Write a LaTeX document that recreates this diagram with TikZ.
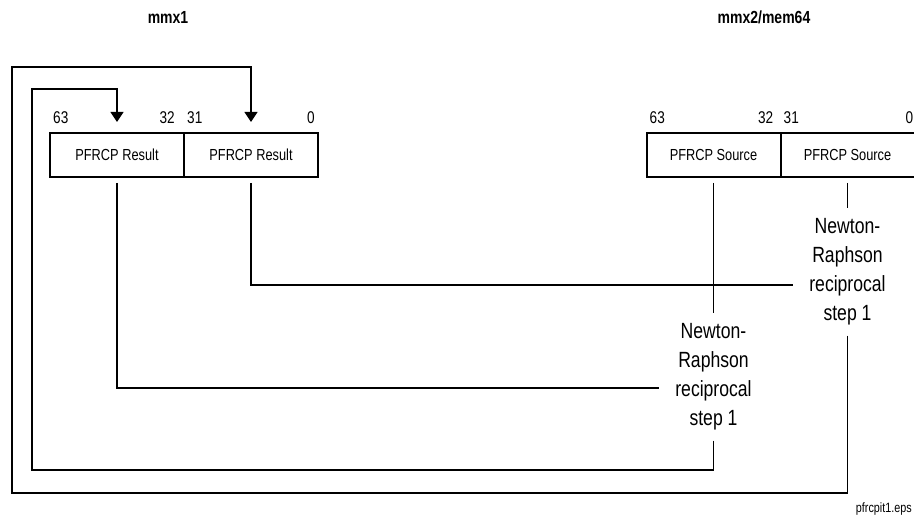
\documentclass[tikz,border=0pt]{standalone}
\usepackage{fontspec}
\setmainfont{Liberation Sans}[FakeStretch=0.8]
\usetikzlibrary{arrows.meta,positioning}
\tikzset{
  regbox/.style={draw,line width=2pt,outer sep=0pt,inner sep=0pt,minimum width=134pt,minimum height=44pt,font=\fontsize{16}{18}\selectfont},
  bitnum/.style={inner sep=0pt,font=\fontsize{17}{19}\selectfont},
  regname/.style={font=\bfseries\fontsize{17.5}{20}\selectfont},
  nrstep/.style={align=center,inner xsep=16pt,inner ysep=10pt,font=\fontsize{22}{29}\selectfont},
  wire/.style={line width=1.1pt},
  feed/.style={wire,-{Triangle[length=10pt,width=13pt]}}
}

\begin{document}
\begin{tikzpicture}[x=1pt,y=-1pt]
  \useasboundingbox (0,0) rectangle (914,516);
  % register names
  \node[regname] (mmxa) at (168,17) {mmx1};
  \node[regname] (mmxb) at (764,17) {mmx2/mem64};
  % destination and source registers
  \node[regbox] (reshi) at (117,155) {PFRCP Result};
  \node[regbox,right=0pt of reshi] (reslo) {PFRCP Result};
  \node[regbox] (srchi) at (713.5,155) {PFRCP Source};
  \node[regbox,right=0pt of srchi] (srclo) {PFRCP Source};
  % bit numbers
  \node[bitnum,anchor=base west] (rb63) at ([shift={(3pt,9pt)}]reshi.north west) {63};
  \node[bitnum,anchor=base east] (rb32) at ([shift={(-9pt,9pt)}]reshi.north east) {32};
  \node[bitnum,anchor=base west] (rb31) at ([shift={(3pt,9pt)}]reslo.north west) {31};
  \node[bitnum,anchor=base east] (rb0) at ([shift={(-3pt,9pt)}]reslo.north east) {0};
  \node[bitnum,anchor=base west] (sb63) at ([shift={(3pt,9pt)}]srchi.north west) {63};
  \node[bitnum,anchor=base east] (sb32) at ([shift={(-7pt,9pt)}]srchi.north east) {32};
  \node[bitnum,anchor=base west] (sb31) at ([shift={(3pt,9pt)}]srclo.north west) {31};
  \node[bitnum,anchor=base east] (sb0) at ([shift={(-1pt,9pt)}]srclo.north east) {0};
  % reciprocal steps
  \node[nrstep] (nrhi) at (srchi |- 0,377) {Newton-\\Raphson\\reciprocal\\step 1};
  \node[nrstep] (nrlo) at (srclo |- 0,272) {Newton-\\Raphson\\reciprocal\\step 1};
  \node[anchor=base east,inner sep=0pt,font=\fontsize{13.5}{15}\selectfont] (fname) at (912,512) {pfrcpit1.eps};
  % connections
  \draw[wire,shorten <=6pt] (srchi.south) -- (nrhi.north);
  \draw[wire,shorten <=6pt] (srclo.south) -- (nrlo.north);
  \draw[wire,shorten <=6pt] (reslo.south) |- ([yshift=-13pt]nrlo.west);
  \draw[wire,shorten <=6pt] (reshi.south) |- ([yshift=-11pt]nrhi.west);
  \draw[feed] (nrhi.south) |- (32,470) |- (reshi.north |- 0,89) -- ([yshift=11pt]reshi.north);
  \draw[feed] (nrlo.south) |- (12,493) |- (reslo.north |- 0,67) -- ([yshift=11pt]reslo.north);
\end{tikzpicture}
\end{document}
